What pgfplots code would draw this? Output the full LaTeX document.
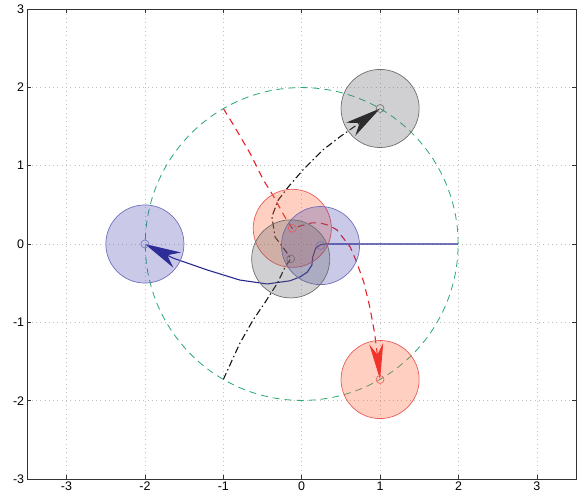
\documentclass[border=0pt]{standalone}
\usepackage{pgfplots}
\pgfplotsset{compat=1.18}
\usepackage{fontspec}
\setmainfont{Liberation Sans}
\usetikzlibrary{arrows.meta}
\definecolor{bline}{RGB}{40,40,145}
\definecolor{rline}{RGB}{235,30,40}
\definecolor{kline}{RGB}{20,20,20}
\definecolor{gcirc}{RGB}{40,170,110}
\definecolor{bfill}{RGB}{60,60,170}
\definecolor{bedge}{RGB}{110,110,190}
\definecolor{rfill}{RGB}{255,100,50}
\definecolor{redge}{RGB}{235,90,90}
\definecolor{kfill}{RGB}{100,100,105}
\definecolor{kedge}{RGB}{110,110,110}
\begin{document}
\begin{tikzpicture}
\useasboundingbox (-27.3bp,-19bp) rectangle (551.7bp,479bp);
\begin{axis}[
  at={(0,0)}, anchor=south west,
  scale only axis, width=548.8bp, height=470bp,
  xmin=-3.5, xmax=3.5, ymin=-3, ymax=3,
  xtick={-3,-2,-1,0,1,2,3}, ytick={-3,-2,-1,0,1,2,3},
  xticklabels={-3,-2,-1,0,1,2,3}, yticklabels={-3,-2,-1,0,1,2,3},
  grid=major,
  major grid style={gray!50, dash pattern=on 0.8bp off 3.5bp, line width=0.6bp},
  tick align=inside, major tick length=4bp, xtick pos=both, ytick pos=both,
  axis line style={gray!40!black, line width=0.6bp},
  tick style={gray!40!black, line width=0.6bp},
  xticklabel style={font=\fontsize{12.5}{14}\selectfont, inner sep=2bp, yshift=-1bp},
  yticklabel style={font=\fontsize{12.5}{14}\selectfont, inner sep=2bp, xshift=-1bp},
]
% reference circle
\addplot[only marks, mark=o, mark size=157pt, mark options={draw=gcirc, line width=0.8bp, dash pattern=on 7bp off 5bp}] coordinates {(0,0)};
% trajectories
\addplot[bline, line width=1.1bp, -{Stealth[length=36bp, width=17bp, inset=11bp]}] coordinates {
(2,0) (0.3,0) (0.24,-0.01) (0.18,-0.05) (0.14,-0.17) (0.13,-0.27) (0.07,-0.36) (-0.02,-0.42) (-0.15,-0.47) (-0.44,-0.51) (-0.79,-0.46) (-1.21,-0.33) (-1.64,-0.18) (-2,0)};
\addplot[rline, line width=1.1bp, dash pattern=on 7bp off 5bp, -{Stealth[length=36bp, width=14bp, inset=11bp]}] coordinates {
(-1,1.73) (-0.87,1.52) (-0.66,1.16) (-0.49,0.82) (-0.36,0.61) (-0.24,0.39) (-0.17,0.27) (-0.12,0.20) (0.02,0.24) (0.13,0.27) (0.23,0.27) (0.34,0.24) (0.45,0.18) (0.62,-0.04) (0.70,-0.23) (0.79,-0.48) (0.87,-0.81) (0.93,-1.14) (0.97,-1.45) (1,-1.73)};
\addplot[kline, line width=1.1bp, dash pattern=on 7bp off 3bp on 1.5bp off 3bp, -{Stealth[length=36bp, width=16bp, inset=11bp]}] coordinates {
(-1,-1.73) (-0.79,-1.27) (-0.62,-0.97) (-0.47,-0.75) (-0.31,-0.50) (-0.21,-0.29) (-0.14,-0.19) (-0.19,-0.11) (-0.34,0.09) (-0.38,0.35) (-0.30,0.56) (-0.17,0.73) (0.02,0.95) (0.27,1.20) (0.49,1.37) (1,1.73)};
% agent discs
\addplot[only marks, mark=*, mark size=39.2pt, mark options={draw=redge, fill=rfill, fill opacity=0.3, line width=0.7bp}] coordinates {(-0.12,0.20) (1,-1.73)};
\addplot[only marks, mark=*, mark size=39.2pt, mark options={draw=bedge, fill=bfill, fill opacity=0.27, line width=0.7bp}] coordinates {(0.24,-0.02) (-2,0)};
\addplot[only marks, mark=*, mark size=39.2pt, mark options={draw=kedge, fill=kfill, fill opacity=0.3, line width=0.7bp}] coordinates {(-0.14,-0.19) (1,1.73)};
% centre markers
\addplot[only marks, mark=o, mark size=4pt, mark options={draw=redge, line width=0.6bp}] coordinates {(-0.12,0.20) (1,-1.73)};
\addplot[only marks, mark=o, mark size=4pt, mark options={draw=bedge, line width=0.6bp}] coordinates {(0.24,-0.02) (-2,0)};
\addplot[only marks, mark=o, mark size=4pt, mark options={draw=kedge, line width=0.6bp}] coordinates {(-0.14,-0.19) (1,1.73)};
\end{axis}
\end{tikzpicture}
\end{document}
